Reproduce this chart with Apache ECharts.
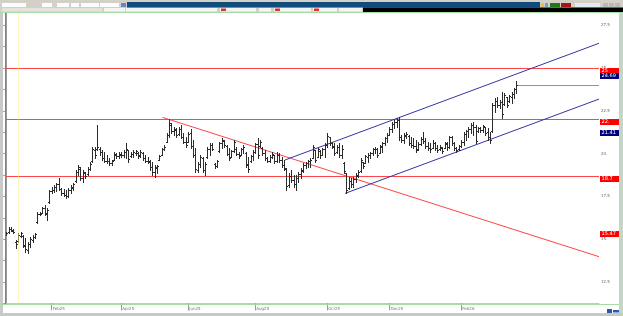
<!DOCTYPE html>
<html><head><meta charset="utf-8">
<script src="https://cdn.jsdelivr.net/npm/echarts@6/dist/echarts.min.js"></script>
<style>html,body{margin:0;padding:0;background:#fff;overflow:hidden}#c{width:623px;height:316px}</style>
</head><body><div id="c"></div>
<script>
// OHLC bars: [open, high, low, close]
const bars = [
[15.30,15.42,15.25,15.38],[15.40,15.71,15.36,15.62],[15.60,15.71,15.48,15.55],[15.50,15.59,15.36,15.42],
[14.85,14.95,14.48,14.70],[14.90,15.36,14.83,15.25],[15.20,15.42,15.13,15.35],[15.20,15.25,14.54,14.65],
[14.60,15.07,14.25,14.40],[14.35,14.83,14.19,14.70],[14.70,15.13,14.54,15.00],[14.95,15.25,14.83,15.15],
[15.15,15.36,15.07,15.30],[16.00,16.59,15.94,16.50],[16.50,16.59,16.41,16.45],[16.55,16.88,16.53,16.80],
[16.80,17.00,16.41,16.55],[16.50,16.82,16.12,16.70],[17.20,17.87,17.11,17.80],[17.80,18.05,17.70,17.90],
[17.90,18.17,17.76,18.05],[18.05,18.28,17.82,18.20],[18.20,18.58,17.87,17.95],[17.95,17.99,17.58,17.70],
[17.70,17.93,17.52,17.60],[17.60,17.87,17.41,17.50],[17.50,17.99,17.46,17.85],[17.85,18.17,17.70,18.05],
[18.00,18.28,17.87,18.20],[18.40,19.04,18.34,18.90],[18.90,19.34,18.75,19.20],[19.10,19.22,18.46,18.60],
[18.60,19.04,18.34,18.90],[18.85,18.93,18.58,18.70],[18.80,19.22,18.75,19.10],[19.10,19.51,19.04,19.40],
[19.55,20.39,19.51,20.30],[20.20,20.39,19.74,19.90],[20.30,21.67,20.21,20.40],[20.30,20.39,19.92,20.10],
[20.10,20.21,19.63,19.75],[19.75,20.10,19.51,19.60],[19.60,19.92,19.45,19.55],[19.60,19.74,19.34,19.45],
[19.45,19.63,19.34,19.55],[19.65,20.10,19.63,20.00],[19.95,20.04,19.74,19.85],[19.85,20.10,19.74,20.00],
[19.95,20.10,19.80,19.90],[19.90,20.21,19.80,20.10],[20.10,20.62,19.74,20.30],[20.20,20.21,19.51,19.70],
[19.85,20.10,19.80,20.00],[20.00,20.21,19.80,20.10],[20.05,20.21,19.92,20.15],[20.05,20.10,19.74,19.85],
[19.90,20.21,19.80,20.10],[20.05,20.10,19.63,19.75],[19.75,19.92,19.51,19.60],[19.60,19.80,19.45,19.55],
[19.50,19.63,19.04,19.20],[19.20,19.51,18.75,18.90],[18.90,19.34,18.63,19.20],[19.15,19.34,18.87,19.25],
[19.65,19.92,19.63,19.85],[19.95,20.33,19.92,20.25],[20.25,20.50,20.21,20.40],[20.70,21.21,20.68,21.10],
[21.10,22.02,20.97,21.80],[21.70,21.79,21.21,21.35],[21.35,21.56,21.09,21.45],[21.40,21.50,20.97,21.10],
[21.15,21.56,21.09,21.45],[21.45,21.67,20.91,21.00],[21.00,21.21,20.62,20.70],[20.70,20.97,20.39,20.50],
[20.70,21.26,20.68,21.15],[21.20,21.44,20.33,20.45],[20.45,20.80,19.80,19.95],[19.90,20.33,18.93,19.10],
[19.05,19.51,18.93,19.40],[19.40,19.92,19.22,19.80],[19.75,19.80,18.93,19.05],[19.05,19.51,18.75,19.40],
[19.80,20.39,19.74,20.30],[20.30,20.62,19.92,20.50],[20.50,20.62,20.21,20.30],[19.40,19.45,19.16,19.25],
[19.30,19.63,19.22,19.55],[20.15,20.68,20.10,20.60],[20.60,20.91,20.33,20.80],[20.75,20.80,20.39,20.50],
[20.45,20.50,19.92,20.00],[20.00,20.33,19.63,19.75],[19.80,20.21,19.80,20.15],[20.15,20.80,20.10,20.70],
[20.30,20.39,19.92,20.00],[20.00,20.10,19.74,19.85],[19.95,20.33,19.92,20.25],[20.25,20.50,20.04,20.40],
[20.05,20.10,19.22,19.35],[19.40,19.80,18.93,19.10],[19.55,19.92,19.51,19.85],[19.85,20.21,19.63,20.10],
[20.10,20.62,20.04,20.55],[20.55,20.91,19.74,19.90],[20.45,20.80,20.39,20.70],[20.35,20.39,19.92,20.05],
[20.05,20.21,19.63,19.75],[19.75,19.80,19.51,19.60],[19.60,19.92,19.51,19.80],[19.80,20.10,19.74,20.00],
[19.90,19.92,19.45,19.60],[19.60,20.10,19.51,19.95],[19.95,20.04,19.51,19.65],[19.65,19.80,19.22,19.35],
[19.35,19.63,19.04,19.15],[19.10,19.16,17.87,18.10],[18.15,18.87,18.05,18.70],[18.70,19.04,18.34,18.45],
[18.45,18.75,18.05,18.20],[18.20,18.75,17.87,18.55],[18.55,18.93,18.34,18.80],[18.80,19.16,18.58,19.05],
[19.00,19.45,18.93,19.35],[19.35,19.51,19.16,19.45],[19.45,19.63,19.22,19.55],[19.55,19.74,19.22,19.65],
[19.75,20.50,19.74,20.40],[20.20,20.21,19.51,19.65],[19.80,20.33,19.80,20.25],[20.15,20.21,19.74,19.90],
[19.95,20.33,19.92,20.25],[20.25,20.62,19.80,20.50],[20.50,21.21,20.39,21.05],[20.95,20.97,20.50,20.60],
[20.60,20.68,20.33,20.45],[20.40,20.62,19.92,20.05],[20.10,20.50,20.04,20.40],[20.40,20.62,19.80,19.95],
[19.95,20.50,19.74,20.30],[19.45,19.51,18.87,19.00],[18.85,18.87,17.70,17.90],[18.00,18.63,17.93,18.40],
[18.40,18.58,18.05,18.20],[18.20,18.63,18.05,18.50],[18.50,18.87,18.34,18.75],[18.70,19.04,18.63,18.95],
[19.00,19.74,18.93,19.65],[19.50,19.51,19.16,19.30],[19.45,19.92,19.45,19.85],[19.80,20.04,19.51,19.95],
[19.95,20.10,19.74,20.05],[20.05,20.33,19.92,20.25],[20.25,20.39,20.04,20.30],[20.30,20.33,19.80,19.95],
[20.05,20.50,20.04,20.45],[20.40,20.68,20.10,20.60],[20.60,20.97,20.50,20.90],[20.90,21.21,20.68,21.10],
[21.10,21.56,21.09,21.45],[21.45,21.85,21.26,21.75],[21.75,21.97,21.50,21.85],[21.85,22.08,21.56,21.95],
[21.95,22.14,20.80,20.95],[20.95,21.09,20.68,20.80],[20.80,21.21,20.62,21.10],[21.05,21.26,20.91,21.15],
[21.05,21.09,20.50,20.60],[20.60,20.97,20.39,20.50],[20.50,20.91,20.33,20.45],[20.45,20.80,20.10,20.20],
[20.25,20.68,20.21,20.55],[20.55,20.97,20.50,20.85],[20.85,21.26,20.62,20.75],[20.75,20.91,20.33,20.45],
[20.45,20.68,20.21,20.35],[20.35,20.62,20.10,20.25],[20.35,20.80,20.33,20.65],[20.60,20.68,20.21,20.35],
[20.35,20.50,20.10,20.20],[20.25,20.50,20.21,20.40],[20.35,20.39,20.04,20.15],[20.35,20.68,20.33,20.60],
[20.55,20.68,20.21,20.40],[20.40,21.03,20.33,20.95],[20.95,21.03,20.50,20.60],[20.60,20.68,20.21,20.35],
[20.35,20.39,20.10,20.20],[20.25,20.50,20.21,20.45],[20.45,20.80,20.39,20.70],[20.70,21.26,20.50,21.15],
[21.15,21.38,20.80,21.30],[21.30,21.56,20.97,21.45],[21.45,21.79,21.21,21.70],[21.70,21.85,21.09,21.55],
[21.55,21.67,20.62,20.75],[21.30,21.56,21.26,21.50],[21.50,21.56,21.26,21.40],[21.40,21.67,21.26,21.60],
[21.55,21.56,21.09,21.20],[21.25,21.50,20.80,20.95],[20.95,21.26,20.62,20.80],[21.30,22.96,21.26,22.85],
[22.85,23.25,22.43,23.10],[23.10,23.31,22.72,22.85],[22.85,23.13,22.67,23.00],[23.00,23.60,22.08,22.30],
[22.90,23.54,22.84,23.45],[23.30,23.31,22.72,22.85],[23.05,23.43,23.02,23.35],[23.30,23.60,22.96,23.50],
[23.50,23.84,23.25,23.75],[23.75,24.24,23.54,24.00]
];
const slotCount = 248;               // bar slots incl. empty future area
const xTickIdx = [19, 48, 76, 104, 134, 160, 190];
const xTickLabels = ['Feb25','Apr25','Jun25','Aug25','Oct25','Dec25','Feb26'];
const yTicks = [12.5, 15, 17.5, 20, 22.5, 25, 27.5];
const yTickLabels = ['12.5','15.','17.5','20.','22.5','25.','27.5'];
const levels = [25, 22, 18.7];
const redTrend = [[65.3, 22.12], [247.5, 13.98]];
const upperChannel = [[116.4, 19.63], [247.5, 26.45]];
const lowerChannel = [[141.5, 17.68], [247.5, 23.19]];
const lastPrice = [[213.4, 24.0], [247.5, 24.0]];
const markerIdx = 5;
const tagValues = [25, 24.69, 22, 21.41, 18.7, 15.47];
const tagTexts = ['25', '24.69', '22.', '21.41', '18.7', '15.47'];
const tagKinds = ['level', 'price', 'level', 'price', 'level', 'level'];

const chart = echarts.init(document.getElementById('c'), null, {renderer: 'canvas'});
const xMin = -0.5, xMax = slotCount - 0.5;
const minorTicks = [];
for (let k = 0; k < yTicks.length; k++) { minorTicks.push(yTicks[k]); minorTicks.push(yTicks[k] - 1.25); }

// segments: [x1, y1, x2, y2, colorKey]
const segments = [];
levels.forEach(v => segments.push([xMin, v, xMax, v, 0]));
segments.push([redTrend[0][0], redTrend[0][1], redTrend[1][0], redTrend[1][1], 0]);
segments.push([upperChannel[0][0], upperChannel[0][1], upperChannel[1][0], upperChannel[1][1], 1]);
segments.push([lowerChannel[0][0], lowerChannel[0][1], lowerChannel[1][0], lowerChannel[1][1], 1]);
segments.push([lastPrice[0][0], lastPrice[0][1], lastPrice[1][0], lastPrice[1][1], 2]);
const segColors = ['#ff4646', '#3434a6', '#8a8ad6'];

const series = [];
series.push({
  type: 'line', data: [], silent: true, animation: false,
  markLine: {symbol: 'none', silent: true, animation: false, label: {show: false},
    lineStyle: {color: '#f2ee90', type: [1, 1], width: 1},
    data: [{xAxis: markerIdx}]}
});
series.push({
  type: 'custom', animation: false, silent: true, z: 2,
  data: segments,
  encode: {x: [0, 2], y: [1, 3]},
  renderItem: function (params, api) {
    const p1 = api.coord([api.value(0), api.value(1)]);
    const p2 = api.coord([api.value(2), api.value(3)]);
    let y1 = p1[1], y2 = p2[1];
    if (Math.abs(y1 - y2) < 0.01) { y1 = y2 = Math.round(y1) + 0.5; }
    return {type: 'line', shape: {x1: p1[0], y1: y1, x2: p2[0], y2: y2},
      style: {stroke: segColors[api.value(4)], lineWidth: 1}};
  }
});
series.push({
  type: 'custom', animation: false, silent: true, z: 3,
  data: bars.map((b, i) => [i, b[0], b[1], b[2], b[3]]),
  encode: {x: 0, y: [1, 2, 3, 4]},
  renderItem: function (params, api) {
    const i = api.value(0);
    const o = api.coord([i, api.value(1)]);
    const h = api.coord([i, api.value(2)]);
    const l = api.coord([i, api.value(3)]);
    const c = api.coord([i, api.value(4)]);
    const x = Math.round(h[0]) + 0.5;
    const st = {stroke: '#2b2b2b', lineWidth: 1};
    const oy = Math.round(o[1]) + 0.5, cy = Math.round(c[1]) + 0.5;
    return {type: 'group', children: [
      {type: 'line', shape: {x1: x, y1: Math.round(h[1]), x2: x, y2: Math.round(l[1]) + 1}, style: st},
      {type: 'line', shape: {x1: x - 1.5, y1: oy, x2: x, y2: oy}, style: st},
      {type: 'line', shape: {x1: x, y1: cy, x2: x + 1.5, y2: cy}, style: st}
    ]};
  }
});
series.push({
  type: 'custom', animation: false, silent: true, clip: false, z: 10,
  data: tagValues.map((v, k) => [0, v, k]),
  encode: {x: 0, y: 1},
  renderItem: function (params, api) {
    const k = api.value(2);
    const y = Math.round(api.coord([0, api.value(1)])[1]);
    const x = params.coordSys.x + params.coordSys.width + 1;
    const fill = tagKinds[k] === 'price' ? '#00007a' : '#ff0000';
    return {type: 'group', children: [
      {type: 'rect', shape: {x: x, y: y, width: 19, height: 6}, style: {fill: fill}},
      {type: 'text', style: {x: x + 1.5, y: y + 3.2, text: tagTexts[k], fill: '#fff',
        font: '5px "DejaVu Sans"', verticalAlign: 'middle', align: 'left'}}
    ]};
  }
});

const gray = '#d4d0c8';
const graphic = [
  {type: 'rect', shape: {x: 0, y: 0, width: 623, height: 13}, style: {fill: gray}, z: 100},
  {type: 'rect', shape: {x: 127, y: 2, width: 413, height: 5.5}, style: {fill: '#0f4c7c'}, z: 101},
  {type: 'rect', shape: {x: 2, y: 3, width: 24, height: 4}, style: {fill: '#fff'}, z: 101},
  {type: 'rect', shape: {x: 42, y: 3, width: 10, height: 4}, style: {fill: '#fff'}, z: 101},
  {type: 'rect', shape: {x: 57, y: 3, width: 12, height: 4}, style: {fill: '#fff'}, z: 101},
  {type: 'rect', shape: {x: 71, y: 3, width: 8, height: 4}, style: {fill: '#fff'}, z: 101},
  {type: 'rect', shape: {x: 81, y: 3, width: 18, height: 4}, style: {fill: '#fff'}, z: 101},
  {type: 'rect', shape: {x: 100, y: 3, width: 19, height: 4}, style: {fill: '#fff'}, z: 101},
  {type: 'rect', shape: {x: 121, y: 3, width: 5, height: 4}, style: {fill: '#5a8ad0'}, z: 101},
  {type: 'rect', shape: {x: 541, y: 3, width: 3, height: 4}, style: {fill: '#e8c040'}, z: 101},
  {type: 'rect', shape: {x: 545, y: 3, width: 3, height: 4}, style: {fill: '#60a0e0'}, z: 101},
  {type: 'rect', shape: {x: 550, y: 3, width: 10, height: 4}, style: {fill: '#1a7a1a'}, z: 101},
  {type: 'rect', shape: {x: 561, y: 3, width: 10, height: 4}, style: {fill: '#a01818'}, z: 101},
  {type: 'rect', shape: {x: 575, y: 3, width: 25, height: 4}, style: {fill: '#e6eaf2'}, z: 101},
  {type: 'rect', shape: {x: 603, y: 3, width: 5, height: 4}, style: {fill: '#b8b8b8'}, z: 101},
  {type: 'rect', shape: {x: 609, y: 3, width: 5, height: 4}, style: {fill: '#b8b8b8'}, z: 101},
  {type: 'rect', shape: {x: 615, y: 3, width: 5, height: 4}, style: {fill: '#b8b8b8'}, z: 101},
  {type: 'rect', shape: {x: 363, y: 7.5, width: 260, height: 4.5}, style: {fill: '#000'}, z: 101},
  {type: 'rect', shape: {x: 2, y: 8, width: 100, height: 3.5}, style: {fill: '#e4e2dc'}, z: 101},
  {type: 'rect', shape: {x: 104, y: 8, width: 21, height: 3.5}, style: {fill: '#f4f4f4'}, z: 101},
  {type: 'rect', shape: {x: 126, y: 8, width: 91, height: 3.5}, style: {fill: '#f4f4f4'}, z: 101},
  {type: 'rect', shape: {x: 220, y: 8, width: 36, height: 3.5}, style: {fill: '#f4f4f4'}, z: 101},
  {type: 'rect', shape: {x: 221, y: 8.5, width: 5, height: 2.5}, style: {fill: '#e03030'}, z: 102},
  {type: 'rect', shape: {x: 259, y: 8, width: 12, height: 3.5}, style: {fill: '#f4f4f4'}, z: 101},
  {type: 'rect', shape: {x: 274, y: 8, width: 37, height: 3.5}, style: {fill: '#f4f4f4'}, z: 101},
  {type: 'rect', shape: {x: 275, y: 8.5, width: 5, height: 2.5}, style: {fill: '#e03030'}, z: 102},
  {type: 'rect', shape: {x: 313, y: 8, width: 24, height: 3.5}, style: {fill: '#f4f4f4'}, z: 101},
  {type: 'rect', shape: {x: 314, y: 8.5, width: 5, height: 2.5}, style: {fill: '#e03030'}, z: 102},
  {type: 'rect', shape: {x: 339, y: 8, width: 23, height: 3.5}, style: {fill: '#f4f4f4'}, z: 101},
  {type: 'line', shape: {x1: 0, y1: 12.5, x2: 623, y2: 12.5}, style: {stroke: '#a6dca6', lineWidth: 1}, z: 102},
  {type: 'rect', shape: {x: 0, y: 13, width: 3, height: 300}, style: {fill: '#c9c9c9'}, z: 100},
  {type: 'line', shape: {x1: 5.5, y1: 13, x2: 5.5, y2: 304}, style: {stroke: '#b25cc4', lineWidth: 1}, z: 100},
  {type: 'rect', shape: {x: 619, y: 13, width: 4, height: 300}, style: {fill: '#c6d6c6'}, z: 100},
  {type: 'line', shape: {x1: 0, y1: 304.5, x2: 619, y2: 304.5}, style: {stroke: '#a6dca6', lineWidth: 1}, z: 100},
  {type: 'rect', shape: {x: 0, y: 313, width: 623, height: 3}, style: {fill: '#c8c8c8'}, z: 100},
  {type: 'rect', shape: {x: 607, y: 309, width: 5, height: 4}, style: {fill: '#2a5aa8'}, z: 101},
  {type: 'rect', shape: {x: 613, y: 310, width: 6, height: 2.5}, style: {fill: '#2a5aa8'}, z: 101}
];

chart.setOption({
  animation: false,
  backgroundColor: '#fff',
  grid: {left: 5, right: 24, top: 13, bottom: 12.6, containLabel: false},
  xAxis: {
    type: 'value', min: xMin, max: xMax,
    splitLine: {show: false},
    axisLine: {show: true, lineStyle: {color: '#a6dca6'}},
    axisTick: {show: true, customValues: xTickIdx, length: 7, lineStyle: {color: '#9a9a9a'}},
    axisLabel: {show: true, customValues: xTickIdx, margin: 3.5, fontSize: 4, color: '#777',
      fontFamily: 'DejaVu Sans', align: 'left', padding: [0, 0, 0, 1],
      formatter: function (v) { const k = xTickIdx.indexOf(v); return k >= 0 ? xTickLabels[k] : ''; }}
  },
  yAxis: {
    type: 'value', position: 'right', min: 11.25, max: 28.22, scale: true,
    splitLine: {show: false},
    axisLine: {show: true, lineStyle: {color: '#9a9a9a'}},
    axisTick: {show: true, inside: true, length: 3, customValues: minorTicks, lineStyle: {color: '#9a9a9a'}},
    axisLabel: {show: true, customValues: yTicks, margin: 2, fontSize: 4, color: '#666', fontFamily: 'DejaVu Sans',
      formatter: function (v) {
        for (let k = 0; k < yTicks.length; k++) if (Math.abs(yTicks[k] - v) < 1e-6) return yTickLabels[k];
        return '';
      }}
  },
  graphic: graphic,
  series: series
});
</script>
</body></html>
